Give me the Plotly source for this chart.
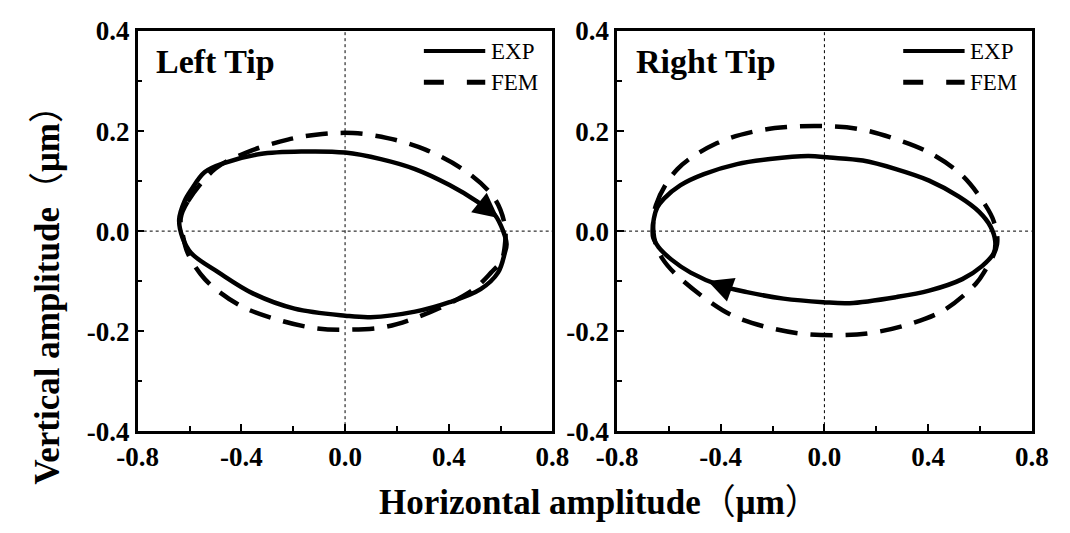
import plotly.graph_objects as go

# Left tip: measured (EXP) and simulated (FEM) orbit of the tip, in micrometres
left_exp_x = [-0.64, -0.62, -0.594, -0.541, -0.461, -0.328, -0.168, 0.0, 0.138, 0.27, 0.403, 0.51,
              0.577, 0.61, 0.623, 0.616, 0.59, 0.523, 0.403, 0.27, 0.098, 0.0, -0.195, -0.354,
              -0.487, -0.594, -0.627, -0.64]
left_exp_y = [0.023, 0.059, 0.082, 0.118, 0.137, 0.154, 0.159, 0.157, 0.144, 0.124, 0.092, 0.059,
              0.033, 0.0, -0.026, -0.044, -0.083, -0.116, -0.142, -0.161, -0.172, -0.169, -0.155,
              -0.125, -0.083, -0.044, -0.013, 0.023]
left_fem_x = [-0.634, -0.607, -0.5, -0.381, -0.221, -0.088, 0.031, 0.164, 0.31, 0.47, 0.577, 0.616,
              0.618, 0.603, 0.563, 0.5, 0.42, 0.27, 0.151, 0.018, -0.115, -0.261, -0.408, -0.541,
              -0.607, -0.625, -0.634]
left_fem_y = [0.026, 0.059, 0.125, 0.157, 0.183, 0.194, 0.196, 0.186, 0.163, 0.118, 0.065, 0.013,
              -0.02, -0.059, -0.083, -0.115, -0.14, -0.174, -0.192, -0.197, -0.194, -0.177, -0.148,
              -0.096, -0.044, -0.01, 0.026]

# Right tip
right_exp_x = [-0.663, -0.658, -0.645, -0.619, -0.555, -0.465, -0.337, -0.21, -0.063, 0.02, 0.148,
               0.276, 0.404, 0.519, 0.596, 0.64, 0.659, 0.653, 0.608, 0.532, 0.404, 0.276, 0.097,
               -0.005, -0.158, -0.299, -0.401, -0.516, -0.59, -0.64, -0.66, -0.663]
right_exp_y = [0.0, 0.025, 0.047, 0.065, 0.092, 0.114, 0.134, 0.144, 0.150, 0.147, 0.141, 0.124,
               0.101, 0.069, 0.039, 0.01, -0.02, -0.044, -0.07, -0.096, -0.119, -0.132, -0.144,
               -0.142, -0.135, -0.122, -0.109, -0.083, -0.057, -0.032, -0.014, 0.0]
right_fem_x = [-0.66, -0.65, -0.567, -0.414, -0.273, -0.146, -0.005, 0.135, 0.263, 0.404, 0.532,
               0.621, 0.653, 0.666, 0.615, 0.583, 0.461, 0.321, 0.187, 0.059, -0.088, -0.222,
               -0.35, -0.459, -0.58, -0.625, -0.648, -0.66]
right_fem_y = [0.0, 0.052, 0.124, 0.176, 0.199, 0.208, 0.21, 0.204, 0.186, 0.157, 0.111, 0.052,
               0.02, -0.026, -0.083, -0.106, -0.158, -0.187, -0.203, -0.208, -0.205, -0.192,
               -0.17, -0.135, -0.083, -0.055, -0.03, 0.0]

# Direction-of-motion arrows: (tail, tip) on each EXP orbit
left_arrow = [(0.50, 0.064), (0.592, 0.026)]
right_arrow = [(-0.36, -0.117), (-0.45, -0.100)]

x_ticks = [-0.8, -0.4, 0.0, 0.4, 0.8]
x_ticktext = ["-0.8", "-0.4", "0.0", "0.4", "0.8"]
y_ticks = [-0.4, -0.2, 0.0, 0.2, 0.4]
y_ticktext = ["-0.4", "-0.2", "0.0", "0.2", "0.4"]

panel_names = ["Left Tip", "Right Tip"]
series_names = ["EXP", "FEM"]

SERIF = "Liberation Serif, Times New Roman, serif"
FEM_DASH = "22px,13px"

fig = go.Figure()

panels = [
    ("x", "y", left_exp_x, left_exp_y, left_fem_x, left_fem_y),
    ("x2", "y2", right_exp_x, right_exp_y, right_fem_x, right_fem_y),
]
for xa, ya, ex, ey, fx, fy in panels:
    fig.add_trace(go.Scatter(x=fx, y=fy, xaxis=xa, yaxis=ya, mode="lines",
                             line=dict(color="black", width=4.5, dash=FEM_DASH,
                                       shape="spline", smoothing=1.0),
                             name=series_names[1], showlegend=False))
    fig.add_trace(go.Scatter(x=ex, y=ey, xaxis=xa, yaxis=ya, mode="lines",
                             line=dict(color="black", width=4.5, shape="spline", smoothing=1.0),
                             name=series_names[0], showlegend=False))

W, H = 1070, 533
left_dom = [121 / W, 551 / W]
right_dom = [618 / W, 1048 / W]
y_dom = [1 - 441 / H, 1 - 17 / H]

TICKFONT = dict(family=SERIF, size=27, color="black", weight=700)

def x_axis(domain, anchor):
    return dict(domain=domain, anchor=anchor, range=[-0.8, 0.8],
                tickmode="array", tickvals=x_ticks, ticktext=[f"<b>{t}</b>" for t in x_ticktext],
                ticks="inside", ticklen=7, tickwidth=2, tickcolor="black",
                minor=dict(tickmode="linear", tick0=0.2, dtick=0.4, ticks="inside",
                           ticklen=5, tickwidth=2, tickcolor="black"),
                showline=True, linewidth=2.5, linecolor="black", mirror=True,
                showgrid=False, zeroline=False, tickfont=TICKFONT)

def y_axis(anchor):
    return dict(domain=y_dom, anchor=anchor, range=[-0.4, 0.4],
                tickmode="array", tickvals=y_ticks, ticktext=[f"<b>{t}</b>" for t in y_ticktext],
                ticks="inside", ticklen=7, tickwidth=2, tickcolor="black",
                minor=dict(tickmode="linear", tick0=0.1, dtick=0.2, ticks="inside",
                           ticklen=5, tickwidth=2, tickcolor="black"),
                showline=True, linewidth=2.5, linecolor="black", mirror=True,
                showgrid=False, zeroline=False, tickfont=TICKFONT)

shapes = []
annotations = []
for idx, (xa, ya) in enumerate([("x", "y"), ("x2", "y2")]):
    # dotted cross-hair through the origin
    shapes.append(dict(type="line", xref=xa, yref=ya, x0=0, x1=0, y0=-0.4, y1=0.4,
                       line=dict(color="black", width=1, dash="dot")))
    shapes.append(dict(type="line", xref=xa, yref=ya, x0=-0.8, x1=0.8, y0=0, y1=0,
                       line=dict(color="black", width=1, dash="dot")))
    # legend keys
    shapes.append(dict(type="line", xref=f"{xa} domain", yref=f"{ya} domain",
                       x0=0.69, x1=0.838, y0=0.95, y1=0.95,
                       line=dict(color="black", width=4)))
    shapes.append(dict(type="line", xref=f"{xa} domain", yref=f"{ya} domain",
                       x0=0.69, x1=0.838, y0=0.872, y1=0.872,
                       line=dict(color="black", width=5, dash="20px,23px")))
    for name, yy in zip(series_names, [0.95, 0.872]):
        annotations.append(dict(text=name, xref=f"{xa} domain", yref=f"{ya} domain",
                                x=0.846, y=yy, xanchor="left", yanchor="middle",
                                showarrow=False,
                                font=dict(family=SERIF, size=23, color="black")))
    annotations.append(dict(text=f"<b>{panel_names[idx]}</b>", xref=f"{xa} domain",
                            yref=f"{ya} domain", x=0.04, y=0.975, xanchor="left",
                            yanchor="top", showarrow=False,
                            font=dict(family=SERIF, size=34, color="black")))

for (xa, ya), (tail, tip) in zip([("x", "y"), ("x2", "y2")], [left_arrow, right_arrow]):
    annotations.append(dict(x=tip[0], y=tip[1], ax=tail[0], ay=tail[1], xref=xa, yref=ya,
                            axref=xa, ayref=ya, text="", showarrow=True, arrowhead=2,
                            arrowsize=2, arrowwidth=2.5, arrowcolor="black", standoff=0))

TITLEFONT = dict(family=SERIF + ", Noto Sans CJK SC", size=35, color="black")
annotations.append(dict(text="<b>Horizontal amplitude</b>（<b>μm</b>）", xref="paper",
                        yref="paper", x=600 / W, y=1 - 517 / H, xanchor="center",
                        yanchor="middle", showarrow=False, font=TITLEFONT))
annotations.append(dict(text="<b>Vertical amplitude</b>（<b>μm</b>）", xref="paper",
                        yref="paper", x=28 / W, y=1 - 288 / H, xanchor="center",
                        yanchor="middle", textangle=-90, showarrow=False, font=TITLEFONT))

fig.update_layout(
    width=W, height=H,
    margin=dict(l=0, r=0, t=0, b=0),
    paper_bgcolor="white", plot_bgcolor="white",
    xaxis=x_axis(left_dom, "y"),
    yaxis=y_axis("x"),
    xaxis2=x_axis(right_dom, "y2"),
    yaxis2=y_axis("x2"),
    shapes=shapes,
    annotations=annotations,
    showlegend=False,
)

fig.write_html("out.html")
